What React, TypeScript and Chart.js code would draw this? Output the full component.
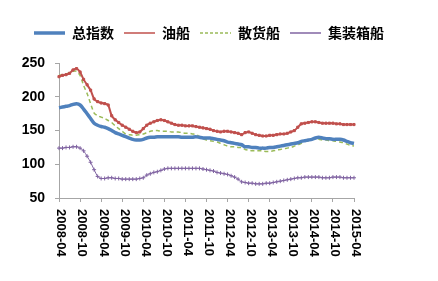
import React, { useEffect, useRef } from 'react';
import { Chart, registerables } from 'chart.js';
Chart.register(...registerables);

// monthly categories 2008-04 .. 2015-04
const categories: string[] = [];
for (let y = 2008; y <= 2015; y++) {
  for (let m = 1; m <= 12; m++) {
    if (y === 2008 && m < 4) continue;
    if (y === 2015 && m > 4) continue;
    categories.push(`${y}-${m < 10 ? '0' + m : m}`);
  }
}

const xTickLabels = [
  '2008-04', '2008-10', '2009-04', '2009-10', '2010-04', '2010-10', '2011-04', '2011-10',
  '2012-04', '2012-10', '2013-04', '2013-10', '2014-04', '2014-10', '2015-04',
];

const seriesNames = ['总指数', '油船', '散货船', '集装箱船'];

const totalIndex = [
  184, 185, 186, 187, 189, 190, 188, 182, 175, 168, 161, 158, 156, 155, 153, 150, 147, 145, 143, 141, 139, 137, 136, 136,
  137, 139, 140, 140, 141, 141, 141, 141, 141, 141, 141, 140, 140, 140, 140, 141, 140, 139, 139, 139, 138, 137, 136, 135,
  133, 132, 131, 130, 129, 126, 126, 125, 125, 124, 124, 124, 125, 125, 126, 127, 128, 129, 130, 131, 132, 134, 135, 136,
  137, 139, 140, 139, 138, 138, 137, 137, 137, 136, 134, 132, 131,
];

const tanker = [
  230, 232, 233, 235, 240, 242, 237, 226, 218, 210, 197, 193, 191, 190, 188, 172, 166, 162, 158, 155, 152, 149, 147, 148,
  153, 158, 161, 163, 165, 166, 165, 163, 161, 159, 158, 158, 157, 157, 157, 156, 155, 154, 153, 152, 150, 149, 148, 149,
  149, 148, 147, 146, 144, 147, 148, 146, 144, 143, 142, 142, 143, 143, 144, 145, 145, 146, 148, 150, 155, 160, 161, 162,
  163, 163, 162, 161, 161, 161, 161, 160, 160, 159, 159, 159, 159,
];

const bulk = [
  232, 233, 234, 236, 238, 238, 232, 217, 205, 190, 176, 172, 170, 168, 165, 162, 157, 153, 149, 145, 144, 143, 143, 144,
  145, 147, 149, 150, 150, 149, 149, 149, 148, 148, 148, 147, 146, 146, 145, 144, 141, 138, 136, 135, 134, 133, 131, 129,
  127, 126, 126, 125, 125, 122, 121, 120, 120, 120, 120, 119, 119, 120, 121, 122, 123, 124, 125, 127, 129, 131, 134, 135,
  137, 138, 137, 136, 136, 135, 135, 134, 133, 132, 130, 128, 127,
];

const container = [
  124, 124, 125, 125, 126, 126, 124, 120, 112, 103, 92, 82, 79, 79, 80, 80, 79, 79, 78, 78, 78, 78, 78, 79,
  80, 84, 86, 88, 89, 91, 93, 94, 94, 94, 94, 94, 94, 94, 94, 94, 94, 93, 92, 91, 90, 88, 87, 86,
  85, 83, 81, 78, 74, 73, 72, 72, 71, 71, 71, 72, 72, 73, 74, 75, 76, 77, 78, 79, 80, 80, 81, 81,
  81, 81, 81, 80, 80, 80, 81, 81, 81, 80, 80, 80, 80,
];

const colors = ['#4F81BD', '#C0504D', '#9BBB59', '#8064A2'];
const axisColor = '#A6A6A6';

const xLabelPlugin = {
  id: 'xLabels',
  afterDraw(chart: any) {
    const xs = chart.scales.x;
    const ctx = chart.ctx;
    ctx.save();
    ctx.font = 'bold 13px "Liberation Sans", Arial, sans-serif';
    ctx.fillStyle = '#000';
    ctx.textAlign = 'left';
    ctx.textBaseline = 'middle';
    categories.forEach((c, i) => {
      if (!xTickLabels.includes(c)) return;
      const x = xs.getPixelForValue(i);
      ctx.save();
      ctx.translate(x + 2, xs.top + 11);
      ctx.rotate(Math.PI / 2);
      ctx.fillText(c, 0, 0);
      ctx.restore();
    });
    ctx.restore();
  },
};

export default function App() {
  const ref = useRef<HTMLCanvasElement>(null);
  useEffect(() => {
    if (!ref.current) return;
    const chart = new Chart(ref.current, {
      type: 'line',
      data: {
        labels: categories,
        datasets: [
          {
            label: seriesNames[0],
            data: totalIndex,
            borderColor: colors[0],
            backgroundColor: colors[0],
            borderWidth: 3.5,
            pointRadius: 0,
            tension: 0.2,
          },
          {
            label: seriesNames[1],
            data: tanker,
            borderColor: colors[1],
            backgroundColor: colors[1],
            borderWidth: 2,
            pointStyle: 'rect',
            pointRadius: 1.5,
            pointBorderWidth: 1,
            pointBackgroundColor: colors[1],
            tension: 0.2,
          },
          {
            label: seriesNames[2],
            data: bulk,
            borderColor: colors[2],
            backgroundColor: colors[2],
            borderWidth: 1.5,
            borderDash: [4, 3],
            pointRadius: 0,
            tension: 0.2,
          },
          {
            label: seriesNames[3],
            data: container,
            borderColor: colors[3],
            backgroundColor: colors[3],
            borderWidth: 1,
            pointStyle: 'cross',
            pointRadius: 2,
            pointBorderWidth: 1,
            tension: 0.2,
          },
        ],
      },
      options: {
        responsive: false,
        animation: false,
        layout: { padding: { top: 16, right: 20, bottom: 0, left: 0 } },
        plugins: {
          tooltip: { enabled: false },
          subtitle: {
            display: true,
            text: ' ',
            position: 'top',
            weight: 500,
            font: { size: 1 },
            padding: { top: 0, bottom: 12 },
          },
          legend: {
            position: 'top',
            labels: {
              usePointStyle: true,
              pointStyleWidth: 31,
              padding: 10,
              color: '#000',
              font: { family: '"Noto Sans CJK SC", sans-serif', size: 14, weight: 'bold' },
              generateLabels: (ch: any) =>
                ch.data.datasets.map((d: any, i: number) => ({
                  text: d.label,
                  fillStyle: d.borderColor,
                  strokeStyle: d.borderColor,
                  lineWidth: i === 0 ? 3.5 : 1.5,
                  lineDash: i === 2 ? [3, 2] : [],
                  pointStyle: 'line',
                  hidden: false,
                  datasetIndex: i,
                  fontColor: '#000',
                })),
            },
          },
        },
        scales: {
          x: {
            type: 'category',
            ticks: { display: false },
            grid: {
              drawOnChartArea: false,
              drawTicks: true,
              tickLength: 4,
              color: (c: any) =>
                xTickLabels.includes(categories[c.index]) ? axisColor : 'rgba(0,0,0,0)',
            },
            border: { display: true, color: axisColor, width: 1 },
            afterFit: (s: any) => {
              s.height = 83;
            },
          },
          y: {
            min: 50,
            max: 250,
            ticks: {
              stepSize: 50,
              padding: 10,
              color: '#000',
              font: { family: '"Liberation Sans", Arial, sans-serif', size: 14, weight: 'bold' },
            },
            grid: { drawOnChartArea: false, drawTicks: true, tickLength: 4, color: axisColor },
            border: { display: true, color: axisColor, width: 1 },
            afterFit: (s: any) => {
              s.width = 59;
            },
          },
          y2: {
            position: 'right',
            display: true,
            ticks: { display: false },
            grid: { display: false, drawTicks: false },
            border: { display: false },
            afterFit: (s: any) => {
              s.width = 64;
            },
          },
        },
      },
      plugins: [xLabelPlugin],
    });
    return () => chart.destroy();
  }, []);
  return (
    <div style={{ position: 'fixed', left: 0, top: 0, width: 438, height: 281, background: '#fff' }}>
      <canvas ref={ref} width={438} height={281} style={{ display: 'block' }} />
    </div>
  );
}
